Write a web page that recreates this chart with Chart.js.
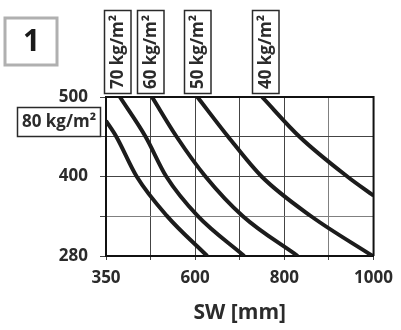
<!DOCTYPE html>
<html>
<head>
<meta charset="utf-8">
<script src="https://cdn.jsdelivr.net/npm/chart.js@4"></script>
<style>
  html, body { margin: 0; padding: 0; background: #fff; }
  #wrap { width: 401px; height: 330px; }
</style>
</head>
<body>
<div id="wrap"><canvas id="chart" width="401" height="330"></canvas></div>
<script>
// Grid lines of the nomogram (uneven steps), and the labels printed on them
const swTicks = [350, 475, 600, 700, 800, 900, 1000];
const swTickLabels = ['350', '', '600', '', '800', '', '1000'];
const valTicks = [280, 340, 400, 450, 500];
const valTickLabels = ['280', '', '400', '', '500'];

// One curve per density
const densityLabels = ['80 kg/m²', '70 kg/m²', '60 kg/m²', '50 kg/m²', '40 kg/m²'];
const sw80 = [350, 379, 436, 520, 627];
const val80 = [470, 450, 400, 341, 280];
const sw70 = [389, 461, 519, 605, 710];
const val70 = [500, 450, 400, 341, 280];
const sw60 = [479, 548, 623, 707, 830];
const val60 = [500, 450, 400, 340, 280];
const sw50 = [605, 674, 749, 860, 998];
const val50 = [500, 450, 400, 340, 280];
const sw40 = [750, 834, 941, 1000];
const val40 = [500, 450, 400, 371];

const FONT = "'Open Sans', 'DejaVu Sans', sans-serif";
const TEXT = '#2b2b2b';

/**
 * Map a value onto the grid index of a piecewise axis
 */
function toGrid(v, ticks) {
    for (let i = 0; i < ticks.length - 1; i++) {
        if (v <= ticks[i + 1] || i === ticks.length - 2) {
            return i + (v - ticks[i]) / (ticks[i + 1] - ticks[i]);
        }
    }
    return 0;
}

function makePoints(xs, ys) {
    return xs.map((x, i) => ({ x: toGrid(x, swTicks), y: toGrid(ys[i], valTicks) }));
}

const curves = [[sw80, val80], [sw70, val70], [sw60, val60], [sw50, val50], [sw40, val40]];
const datasets = curves.map((c, i) => ({
    label: densityLabels[i],
    data: makePoints(c[0], c[1]),
    borderColor: '#1c1c1c',
    borderWidth: 4,
    pointRadius: 0,
    cubicInterpolationMode: 'monotone',
    clip: 0,
    fill: false
}));

// label boxes and the framed "1"
const boxPlugin = {
    id: 'boxes',
    afterDatasetsDraw(chart) {
        const ctx = chart.ctx;
        const a = chart.chartArea;
        ctx.save();
        ctx.strokeStyle = '#111';
        ctx.lineWidth = 2;
        ctx.beginPath();
        ctx.moveTo(a.left, a.top);
        ctx.lineTo(a.right, a.top);
        ctx.lineTo(a.right, a.bottom);
        ctx.stroke();
        ctx.restore();
    },
    afterDraw(chart) {
        const ctx = chart.ctx;
        ctx.save();

        // panel number
        ctx.strokeStyle = '#b0b0b0';
        ctx.lineWidth = 3;
        ctx.strokeRect(5, 18, 52, 47);
        ctx.fillStyle = '#1a1a1a';
        ctx.font = 'bold 30px ' + FONT;
        ctx.textAlign = 'center';
        ctx.textBaseline = 'middle';
        ctx.fillText('1', 31.5, 42);

        ctx.strokeStyle = '#2a2a2a';
        ctx.lineWidth = 1.5;
        ctx.fillStyle = TEXT;
        ctx.font = 'bold 17px ' + FONT;

        // 80 kg/m² horizontal box
        ctx.strokeRect(17.5, 107.5, 83, 29);
        ctx.fillText(densityLabels[0], 59, 122);

        // rotated boxes at the top
        const lefts = [104.5, 137.5, 184.5, 252.5];
        lefts.forEach((x, i) => {
            ctx.strokeRect(x, 10.5, 26.5, 83);
            ctx.save();
            ctx.translate(x + 13.5, 52);
            ctx.rotate(-Math.PI / 2);
            ctx.fillText(densityLabels[i + 1], 0, 0);
            ctx.restore();
        });
        ctx.restore();
    }
};

const ctx = document.getElementById('chart').getContext('2d');
new Chart(ctx, {
    type: 'line',
    data: { datasets: datasets },
    options: {
        responsive: false,
        animation: false,
        layout: { padding: { top: 97, right: 20, left: 0, bottom: 0 } },
        plugins: { legend: { display: false }, tooltip: { enabled: false } },
        scales: {
            x: {
                type: 'linear',
                min: 0,
                max: swTicks.length - 1,
                afterFit: scale => { scale.height = 74; },
                ticks: {
                    stepSize: 1,
                    autoSkip: false,
                    maxRotation: 0,
                    padding: 8,
                    color: TEXT,
                    font: { family: FONT, size: 17, weight: 'bold' },
                    callback: (v) => swTickLabels[v] || ''
                },
                grid: {
                    color: c => (c.index === 5 ? '#808080' : '#444'),
                    lineWidth: 1,
                    tickLength: 4,
                    tickColor: '#444'
                },
                border: { display: true, color: '#111', width: 2 },
                title: {
                    display: true,
                    text: 'SW [mm]',
                    color: TEXT,
                    font: { family: FONT, size: 21, weight: 'bold' },
                    padding: { top: 0, bottom: 4 }
                }
            },
            y: {
                type: 'linear',
                min: 0,
                max: valTicks.length - 1,
                afterFit: scale => { scale.width = 106; },
                ticks: {
                    stepSize: 1,
                    autoSkip: false,
                    padding: 12,
                    color: TEXT,
                    font: { family: FONT, size: 17, weight: 'bold' },
                    callback: (v) => valTickLabels[v] || ''
                },
                grid: {
                    color: c => (c.index === 1 ? '#808080' : '#444'),
                    lineWidth: 1,
                    tickLength: 6,
                    tickColor: '#444'
                },
                border: { display: true, color: '#111', width: 2 }
            }
        }
    },
    plugins: [boxPlugin]
});
</script>
</body>
</html>
